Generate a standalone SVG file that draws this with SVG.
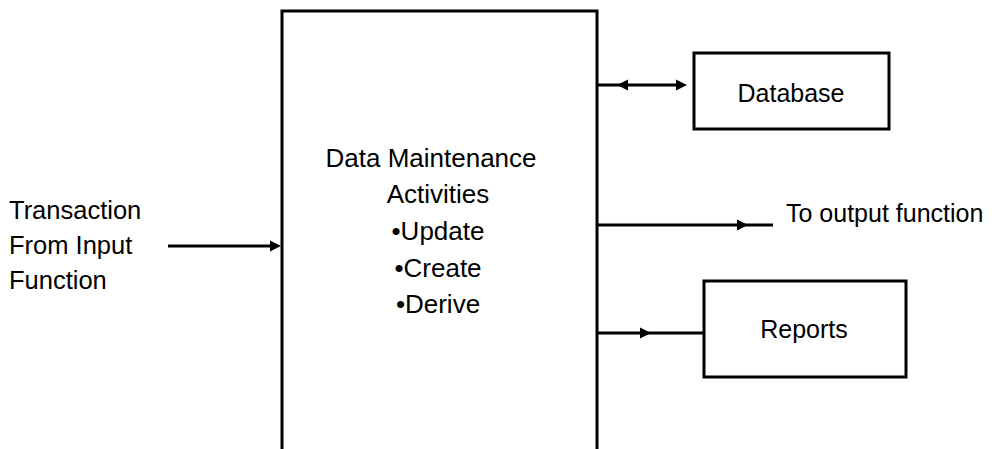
<svg xmlns="http://www.w3.org/2000/svg" width="994" height="449" viewBox="0 0 994 449">
<style>
.box{fill:#fff;stroke:#000;stroke-width:3}
.ln{stroke:#000;stroke-width:3;fill:none}
.ah{fill:#000}
text{font-family:"Liberation Sans",Arial,sans-serif;font-size:25px;fill:#000}
.c{text-anchor:middle}
</style>
<rect width="994" height="449" fill="#fff"/>
<g id="main">
<path class="ln" d="M282,460 V11 H597 V460"/>
<text class="c" x="431" y="167" style="font-size:26px">Data Maintenance</text>
<text class="c" x="438" y="203" style="font-size:26px">Activities</text>
<text class="c" x="438" y="240" style="font-size:26px">•Update</text>
<text class="c" x="438" y="277" style="font-size:26px">•Create</text>
<text class="c" x="438" y="313" style="font-size:26px">•Derive</text>
</g>
<g id="database">
<rect class="box" x="694" y="53" width="195" height="76"/>
<text class="c" x="791" y="102">Database</text>
</g>
<g id="reports">
<rect class="box" x="704" y="281" width="202" height="96"/>
<text class="c" x="804" y="338">Reports</text>
</g>
<g id="input">
<text x="9" y="219" style="font-size:25.5px">Transaction</text>
<text x="9" y="254" style="font-size:25.5px">From Input</text>
<text x="9" y="289" style="font-size:25.5px">Function</text>
</g>
<g id="output">
<text x="786" y="222">To output function</text>
</g>
<g id="connectors">
<line class="ln" x1="168" y1="246" x2="274" y2="246"/>
<polygon class="ah" points="281,246 270,240.5 270,251.5"/>
<line class="ln" x1="597" y1="85" x2="680" y2="85"/>
<polygon class="ah" points="617,85 628,79.5 628,90.5"/>
<polygon class="ah" points="687,85 676,79.5 676,90.5"/>
<line class="ln" x1="597" y1="225" x2="773" y2="225"/>
<polygon class="ah" points="748,225 737,219.5 737,230.5"/>
<line class="ln" x1="597" y1="333" x2="704" y2="333"/>
<polygon class="ah" points="651,333 640,327.5 640,338.5"/>
</g>
</svg>
